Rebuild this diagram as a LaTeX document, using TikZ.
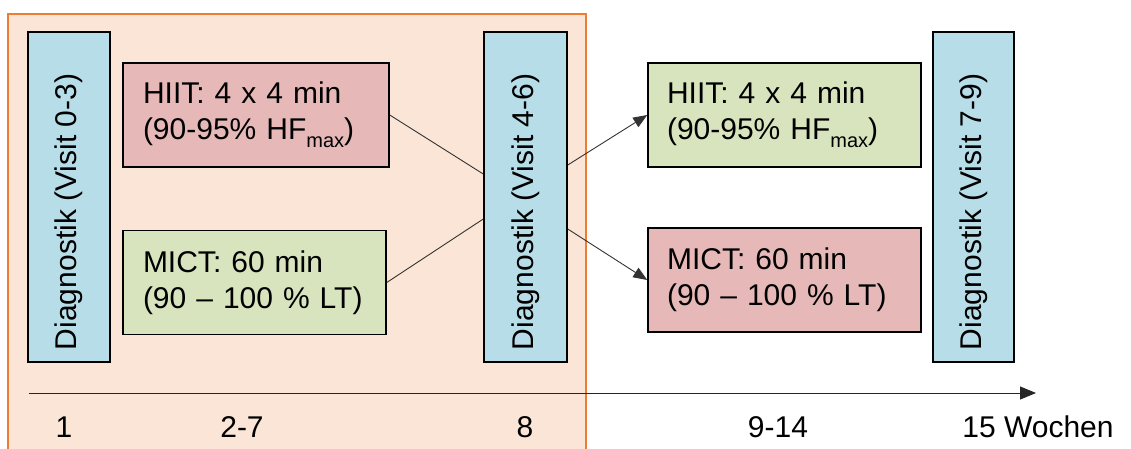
\documentclass[tikz,border=0pt]{standalone}
\usepackage{fontspec}
\setmainfont{Liberation Sans}
\usetikzlibrary{arrows.meta}
\definecolor{orangefill}{HTML}{FBE5D6}
\definecolor{orangeline}{HTML}{ED7D31}
\definecolor{diagblue}{HTML}{B7DEE8}
\definecolor{hiitpink}{HTML}{E6B9B8}
\definecolor{mictgreen}{HTML}{D7E4BD}
\newcommand{\subm}{\raisebox{-8pt}{\fontsize{20}{20}\selectfont max}}
\newcommand{\diagtext}[1]{\rotatebox{90}{\makebox[306pt][l]{#1}}}
\begin{document}
\begin{tikzpicture}[x=1pt,y=-1pt,
  every node/.style={font=\fontsize{30}{36}\selectfont},
  diagbox/.style={draw=black, line width=1.5pt, fill=diagblue, minimum width=82pt, minimum height=330pt, inner sep=0pt},
  trainbox/.style={draw=black, line width=1.5pt, minimum height=104pt, inner xsep=0pt, inner ysep=0pt, align=left},
  link/.style={draw=black!80, line width=0.9pt},
  tip/.style={-{Triangle[length=14pt,width=11pt]}},
  tick/.style={anchor=base}
]
\useasboundingbox (0,0) rectangle (1131,448);
% orange phase background
\fill[orangefill] (8,14) rectangle (586,450);
\draw[orangeline, line width=2pt] (8,450) -- (8,14) -- (586,14) -- (586,450);

% diagnostics
\node[diagbox] (d1) at (69,197) {\diagtext{Diagnostik (Visit 0-3)}};
\node[diagbox, minimum width=83pt] (d2) at (525.5,197) {\diagtext{Diagnostik (Visit 4-6)}};
\node[diagbox, minimum width=81pt] (d3) at (973.5,197) {\diagtext{Diagnostik (Visit 7-9)}};

% training boxes
\node[trainbox, fill=hiitpink, minimum width=266pt, text width=226pt] (h1) at (256,115) {HIIT: 4 x 4 min\\(90-95\% HF\subm)};
\node[trainbox, fill=mictgreen, minimum width=263pt, text width=223pt] (m1) at (254.5,282.5) {MICT: 60 min\\(90 – 100 \% LT)};
\node[trainbox, fill=mictgreen, minimum width=273pt, text width=235pt] (h2) at (784.5,115) {HIIT: 4 x 4 min\\(90-95\% HF\subm)};
\node[trainbox, fill=hiitpink, minimum width=273pt, text width=235pt] (m2) at (784.5,280) {MICT: 60 min\\(90 – 100 \% LT)};

% connectors
\draw[link] (h1.east) -- ([yshift=23pt]d2.west);
\draw[link] (m1.east) -- ([yshift=-22pt]d2.west);
\draw[link, tip] ([yshift=32pt]d2.east) -- (h2.west);
\draw[link, tip] ([yshift=-32pt]d2.east) -- (m2.west);

% time axis
\coordinate (axs) at (29,393);
\coordinate (axe) at (1036,393);
\draw[black!85, line width=1pt, -{Triangle[length=16pt,width=13pt]}] (axs) -- (axe);

\node[tick] (t1) at (64,437) {1};
\node[tick] (t2) at (242,437) {2-7};
\node[tick] (t3) at (525,437) {8};
\node[tick] (t4) at (778,437) {9-14};
\node[tick] (t5) at (1038,437) {15 Wochen};
\end{tikzpicture}
\end{document}
